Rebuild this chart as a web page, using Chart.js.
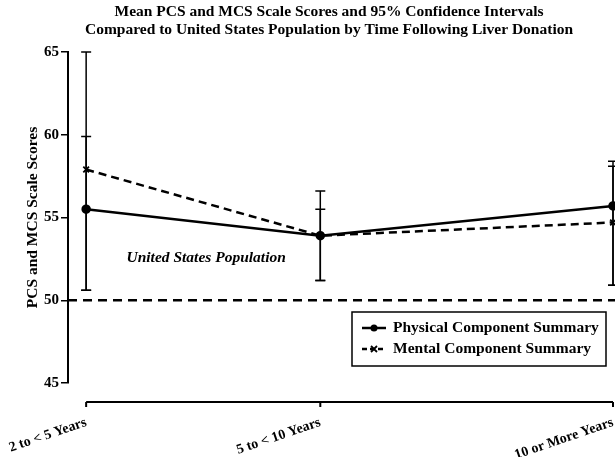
<!DOCTYPE html>
<html>
<head>
<meta charset="utf-8">
<title>Mean PCS and MCS Scale Scores</title>
<script src="https://cdn.jsdelivr.net/npm/chart.js@4.4.1/dist/chart.umd.min.js"></script>
<style>
  html, body { margin: 0; padding: 0; background: #fff; }
  #wrap { width: 615px; height: 457px; }
</style>
</head>
<body>
<div id="wrap"><canvas id="chart"></canvas></div>
<script>
// time since donation groups, placed at the midpoint of each interval
const categories = ['2 to < 5 Years', '5 to < 10 Years', '10 or More Years'];
const yearMidpoints = [3.5, 7.5, 12.5];

// Physical Component Summary: means and 95% CI limits
const pcsMeans = [55.5, 53.9, 55.7];
const pcsLow = [50.6, 51.2, 50.9];
const pcsHigh = [59.9, 56.6, 58.4];

// Mental Component Summary: means and 95% CI limits
const mcsMeans = [57.9, 53.9, 54.7];
const mcsLow = [50.6, 51.2, 50.9];
const mcsHigh = [65.0, 55.5, 58.1];

const yTicks = [45, 50, 55, 60, 65];
const usPopulation = 50;

const titleLines = [
    'Mean PCS and MCS Scale Scores and 95% Confidence Intervals',
    'Compared to United States Population by Time Following Liver Donation'
];
const serif = "'Liberation Serif', 'Times New Roman', serif";

const toPoints = (values) => values.map((v, i) => ({ x: yearMidpoints[i], y: v }));

// draws a line sample + marker, used for the legend box
function drawSample(ctx, x, y, dashed, marker) {
    ctx.save();
    ctx.strokeStyle = '#000';
    ctx.fillStyle = '#000';
    ctx.lineWidth = 2.5;
    ctx.setLineDash(dashed ? [5, 3] : []);
    ctx.beginPath();
    ctx.moveTo(x, y);
    ctx.lineTo(x + 24, y);
    ctx.stroke();
    ctx.setLineDash([]);
    const cx = x + 12;
    if (marker === 'circle') {
        ctx.beginPath();
        ctx.arc(cx, y, 3.5, 0, Math.PI * 2);
        ctx.fill();
    } else {
        ctx.lineWidth = 1.8;
        ctx.beginPath();
        ctx.moveTo(cx - 3, y - 3); ctx.lineTo(cx + 3, y + 3);
        ctx.moveTo(cx - 3, y + 3); ctx.lineTo(cx + 3, y - 3);
        ctx.stroke();
    }
    ctx.restore();
}

const decorations = {
    id: 'decorations',
    beforeDraw(chart) {
        const ctx = chart.ctx;
        ctx.save();
        ctx.fillStyle = '#fff';
        ctx.fillRect(0, 0, chart.width, chart.height);
        ctx.restore();
    },
    beforeDatasetsDraw(chart) {
        // dashed US population reference line
        const ctx = chart.ctx;
        const area = chart.chartArea;
        const y = chart.scales.y.getPixelForValue(usPopulation);
        ctx.save();
        ctx.strokeStyle = '#000';
        ctx.lineWidth = 2.5;
        ctx.setLineDash([9, 6]);
        ctx.beginPath();
        ctx.moveTo(area.left, y);
        ctx.lineTo(chart.width, y);
        ctx.stroke();
        ctx.restore();
    },
    afterDatasetsDraw(chart) {
        const ctx = chart.ctx;
        const xs = chart.scales.x;
        const ys = chart.scales.y;
        const area = chart.chartArea;

        // error bars with caps
        ctx.save();
        ctx.strokeStyle = '#000';
        ctx.lineWidth = 1.5;
        [[pcsLow, pcsHigh], [mcsLow, mcsHigh]].forEach(([lo, hi]) => {
            yearMidpoints.forEach((xv, i) => {
                const x = xs.getPixelForValue(xv);
                const y1 = ys.getPixelForValue(lo[i]);
                const y2 = ys.getPixelForValue(hi[i]);
                ctx.beginPath();
                ctx.moveTo(x, y1); ctx.lineTo(x, y2);
                ctx.moveTo(x - 5, y1); ctx.lineTo(x + 5, y1);
                ctx.moveTo(x - 5, y2); ctx.lineTo(x + 5, y2);
                ctx.stroke();
            });
        });

        // detached x axis bracket
        const by = area.bottom + 19;
        const x0 = xs.getPixelForValue(yearMidpoints[0]);
        const x1 = xs.getPixelForValue(yearMidpoints[yearMidpoints.length - 1]);
        ctx.lineWidth = 2;
        ctx.beginPath();
        ctx.moveTo(x0, by); ctx.lineTo(x1, by);
        yearMidpoints.forEach((xv) => {
            const x = xs.getPixelForValue(xv);
            ctx.moveTo(x, by); ctx.lineTo(x, by + 5);
        });
        ctx.stroke();

        // title
        ctx.fillStyle = '#000';
        ctx.textAlign = 'center';
        ctx.textBaseline = 'middle';
        ctx.font = 'bold 15.5px ' + serif;
        ctx.fillText(titleLines[0], 329, 12);
        ctx.fillText(titleLines[1], 329, 30);

        // population label
        ctx.font = 'italic bold 15.5px ' + serif;
        ctx.fillText('United States Population', xs.getPixelForValue(5.55), ys.getPixelForValue(52.55));

        // legend box
        const lx = 352, ly = 312, lw = 254, lh = 54;
        ctx.lineWidth = 1.5;
        ctx.strokeRect(lx, ly, lw, lh);
        ctx.textAlign = 'left';
        ctx.font = 'bold 15.5px ' + serif;
        drawSample(ctx, lx + 10, ly + 16, false, 'circle');
        ctx.fillText('Physical Component Summary', lx + 41, ly + 16);
        drawSample(ctx, lx + 10, ly + 37, true, 'cross');
        ctx.fillText('Mental Component Summary', lx + 41, ly + 37);
        ctx.restore();
    }
};

new Chart(document.getElementById('chart'), {
    type: 'line',
    data: {
        datasets: [
            {
                label: 'Physical Component Summary',
                data: toPoints(pcsMeans),
                borderColor: '#000',
                backgroundColor: '#000',
                borderWidth: 2.5,
                pointStyle: 'circle',
                pointRadius: 3.5,
                clip: false
            },
            {
                label: 'Mental Component Summary',
                data: toPoints(mcsMeans),
                borderColor: '#000',
                backgroundColor: '#000',
                borderWidth: 2.5,
                borderDash: [8, 5],
                pointStyle: 'crossRot',
                pointRadius: 4,
                pointBorderWidth: 1.8,
                clip: false
            }
        ]
    },
    options: {
        responsive: true,
        maintainAspectRatio: false,
        animation: false,
        layout: { autoPadding: false, padding: { top: 52, right: 2, left: 0, bottom: 0 } },
        plugins: {
            legend: { display: false },
            title: { display: false },
            tooltip: { enabled: false }
        },
        scales: {
            x: {
                type: 'linear',
                min: 3.19,
                max: 12.5,
                afterBuildTicks: (scale) => { scale.ticks = yearMidpoints.map(v => ({ value: v })); },
                afterFit: (scale) => {
                    scale.height = 74;
                    scale.paddingLeft = 0;
                    scale.paddingRight = 0;
                },
                grid: { display: false, drawTicks: false },
                border: { display: false },
                ticks: {
                    autoSkip: false,
                    minRotation: 19,
                    maxRotation: 19,
                    padding: 31,
                    color: '#000',
                    font: { family: serif, size: 14, weight: 'bold' },
                    callback: (v) => categories[yearMidpoints.indexOf(v)]
                }
            },
            y: {
                min: 45,
                max: 65,
                afterBuildTicks: (scale) => { scale.ticks = yTicks.map(v => ({ value: v })); },
                afterFit: (scale) => {
                    scale.width = 68;
                    scale.paddingTop = 0;
                    scale.paddingBottom = 0;
                },
                grid: { drawOnChartArea: false, tickLength: 7, color: '#000', lineWidth: 1.5 },
                border: { display: true, color: '#000', width: 2 },
                ticks: {
                    padding: 2,
                    color: '#000',
                    font: { family: serif, size: 15, weight: 'bold' }
                },
                title: {
                    display: true,
                    text: 'PCS and MCS Scale Scores',
                    color: '#000',
                    padding: { top: 24, bottom: 0 },
                    font: { family: serif, size: 15.5, weight: 'bold' }
                }
            }
        }
    },
    plugins: [decorations]
});
</script>
</body>
</html>
